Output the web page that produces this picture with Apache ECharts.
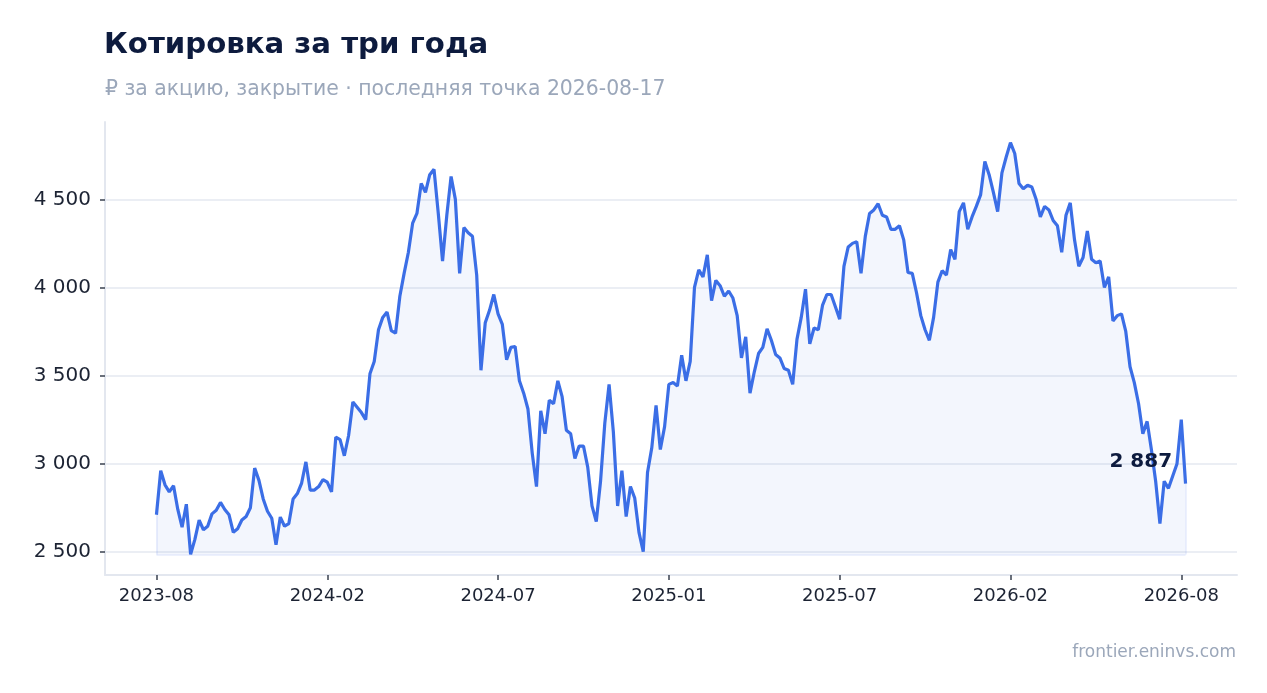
<!DOCTYPE html>
<html lang="ru">
<head>
<meta charset="utf-8">
<title>Котировка за три года</title>
<script src="https://cdn.jsdelivr.net/npm/echarts@6/dist/echarts.min.js"></script>
<style>
  html, body { margin: 0; padding: 0; background: #fff; }
  #chart { width: 1267px; height: 693px; }
</style>
</head>
<body>
<div id="chart"></div>
<script>
// подписи оси X, по одной на каждые tickStep точек
const tickLabels = ["2023-08", "2024-02", "2024-07", "2025-01", "2025-07", "2026-02", "2026-08"];
const tickStep = 40;

// цена закрытия, ₽ за акцию (последняя точка 2026-08-17)
const prices = [
  2710, 2960, 2880, 2840, 2875, 2740, 2640, 2770, 2485, 2570,
  2680, 2625, 2645, 2715, 2735, 2780, 2740, 2710, 2610, 2630,
  2680, 2700, 2750, 2975, 2905, 2800, 2730, 2690, 2540, 2697,
  2645, 2660, 2800, 2830, 2890, 3010, 2850, 2850, 2870, 2910,
  2895, 2840, 3150, 3136, 3045, 3160, 3350, 3320, 3290, 3250,
  3510, 3580, 3760, 3830, 3860, 3755, 3740, 3950, 4080, 4200,
  4365, 4420, 4590, 4540, 4640, 4670, 4420, 4150, 4410, 4630,
  4500, 4080, 4340, 4310, 4290, 4070, 3530, 3800, 3870, 3960,
  3850, 3790, 3590, 3660, 3665, 3470, 3400, 3310, 3060, 2870,
  3300, 3170, 3360, 3340, 3470, 3380, 3190, 3170, 3030, 3100,
  3100, 2980, 2760, 2672, 2900, 3230, 3450, 3180, 2760, 2960,
  2700, 2870, 2805, 2610, 2500, 2950, 3090, 3330, 3080, 3210,
  3450, 3460, 3440, 3615, 3470, 3580, 4000, 4100, 4060, 4185,
  3925, 4040, 4010, 3950, 3980, 3940, 3840, 3600, 3720, 3400,
  3520, 3625, 3660, 3765, 3700, 3620, 3600, 3540, 3530, 3450,
  3705, 3830, 3990, 3680, 3770, 3760, 3900, 3960, 3960, 3890,
  3820, 4120, 4230, 4250, 4260, 4080, 4290, 4420, 4440, 4475,
  4410, 4400, 4330, 4330, 4350, 4270, 4085, 4080, 3970, 3840,
  3760, 3700, 3830, 4030, 4095, 4070, 4215, 4160, 4430, 4480,
  4330, 4400, 4460, 4525, 4715, 4640, 4540, 4430, 4650, 4740,
  4822, 4760, 4590, 4560, 4580, 4570, 4500, 4400, 4460, 4440,
  4380, 4350, 4200, 4410, 4480, 4270, 4120, 4170, 4320, 4160,
  4140, 4150, 4000, 4060, 3810, 3840, 3850, 3750, 3550, 3460,
  3340, 3170, 3240, 3080, 2900, 2660, 2900, 2860, 2930, 3000,
  3250, 2887
];

// деления оси Y
const yTicks = [2500, 3000, 3500, 4000, 4500];

const last = prices.length - 1;
const low = Math.min(...prices);
const points = prices.map((v, i) => [i, v]);
const xTicks = tickLabels.map((_, k) => k * tickStep);

const font = "DejaVu Sans";
const ink = "#0d1b3e";
const muted = "#9ba7ba";
const blue = "#3b6ee6";

// 4500 -> "4 500"
function fmt(v) {
  return String(Math.round(v)).replace(/\B(?=(\d{3})+(?!\d))/g, " ");
}

const chart = echarts.init(document.getElementById("chart"));

chart.setOption({
  animation: false,
  backgroundColor: "#ffffff",
  textStyle: { fontFamily: font },
  title: [
    {
      text: "Котировка за три года",
      left: 104, top: 31, padding: 0,
      textStyle: { fontFamily: font, fontSize: 29.2, fontWeight: "bold", color: ink }
    },
    {
      text: "₽ за акцию, закрытие · последняя точка 2026-08-17",
      left: 105, top: 80, padding: 0,
      textStyle: { fontFamily: font, fontSize: 20.4, fontWeight: "normal", color: muted }
    },
    {
      text: "frontier.eninvs.com",
      right: 31, top: 644, padding: 0,
      textStyle: { fontFamily: font, fontSize: 17, fontWeight: "normal", color: muted }
    }
  ],
  grid: { left: 105, right: 30, top: 122, bottom: 118, containLabel: false },
  xAxis: {
    type: "value",
    min: -last * 0.05,
    max: last * 1.05,
    axisLine: { show: true, onZero: false, lineStyle: { color: "#e3e7ef", width: 2 } },
    axisTick: { show: true, customValues: xTicks, length: 5, lineStyle: { color: "#3a4150", width: 1.5 } },
    axisLabel: {
      customValues: xTicks,
      formatter: v => tickLabels[Math.round(v / tickStep)],
      fontFamily: font, fontSize: 18, color: "#1c2333", margin: 12
    },
    splitLine: { show: false }
  },
  yAxis: {
    type: "value",
    min: e => e.min - (e.max - e.min) * 0.05,
    max: e => e.max + (e.max - e.min) * 0.05,
    axisLine: { show: true, onZero: false, lineStyle: { color: "#e3e7ef", width: 2 } },
    axisTick: { show: true, customValues: yTicks, length: 5, lineStyle: { color: "#3a4150", width: 1.5 } },
    axisLabel: {
      customValues: yTicks,
      formatter: fmt,
      fontFamily: font, fontSize: 20, color: "#1c2333", margin: 14
    },
    splitLine: { show: true, lineStyle: { color: "#e4e8f0", width: 1.5 } }
  },
  series: [
    {
      type: "line",
      data: points,
      showSymbol: false,
      symbol: "none",
      lineStyle: { color: blue, width: 3.2 },
      areaStyle: { color: "rgba(59,110,230,0.09)", origin: low },
      z: 3,
      // тонкая рамка вокруг заливки
      markLine: {
        silent: true,
        symbol: "none",
        label: { show: false },
        lineStyle: { color: "rgba(59,110,230,0.12)", width: 1.5, type: "solid" },
        data: [
          [{ coord: [0, low] }, { coord: [last, low] }],
          [{ coord: [0, low] }, { coord: [0, prices[0]] }],
          [{ coord: [last, low] }, { coord: [last, prices[last]] }]
        ]
      },
      // подпись последней цены
      markPoint: {
        silent: true,
        symbol: "circle",
        symbolSize: 1,
        itemStyle: { color: "transparent" },
        label: {
          show: true,
          position: "left",
          distance: 0,
          offset: [-13, -22],
          formatter: p => fmt(p.value),
          fontFamily: font, fontSize: 20, fontWeight: "bold", color: ink
        },
        data: [{ coord: [last, prices[last]], value: prices[last] }]
      }
    }
  ]
});
</script>
</body>
</html>
